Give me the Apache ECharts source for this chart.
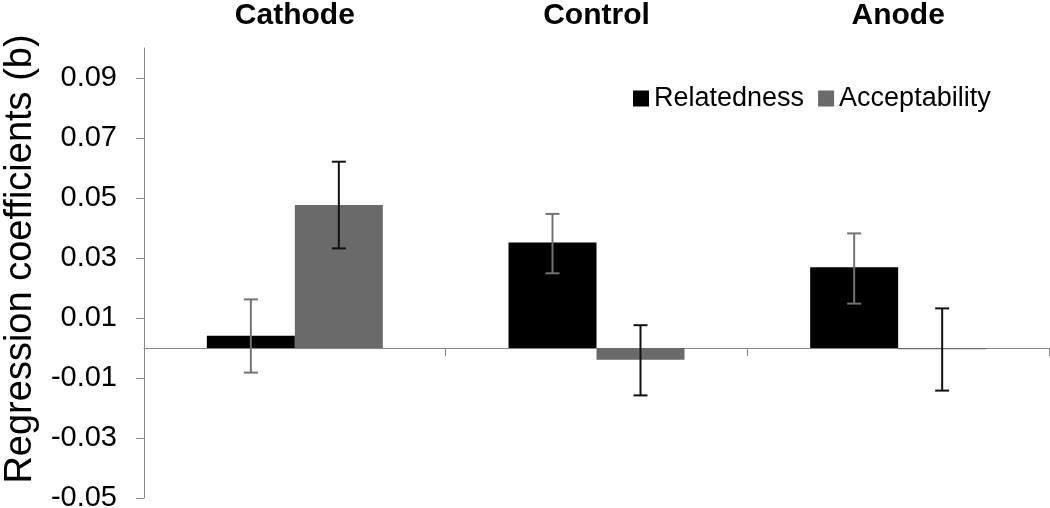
<!DOCTYPE html>
<html>
<head>
<meta charset="utf-8">
<script src="https://cdn.jsdelivr.net/npm/echarts@6/dist/echarts.min.js"></script>
<style>
html,body{margin:0;padding:0;background:#fff;}
#chart{width:1050px;height:508px;}
</style>
</head>
<body>
<div id="chart"></div>
<script>
const categories = ['Cathode', 'Control', 'Anode'];
const seriesNames = ['Relatedness', 'Acceptability'];
const relatedness = [0.0041, 0.0352, 0.0269];
const acceptability = [0.0477, -0.0039, -0.0004];
const relatednessLow = [-0.0082, 0.0249, 0.0148];
const relatednessHigh = [0.0162, 0.0447, 0.0382];
const acceptabilityLow = [0.0332, -0.0158, -0.0142];
const acceptabilityHigh = [0.0621, 0.0076, 0.0132];
const yTicks = [-0.05, -0.03, -0.01, 0.01, 0.03, 0.05, 0.07, 0.09];

const FONT = "'Liberation Sans', Arial, sans-serif";
const BAR_W = 88;
const AXIS_COLOR = '#868686';

function errorSeries(low, high, offsetSign, color) {
  return {
    type: 'custom',
    xAxisIndex: 0,
    silent: true,
    z: 5,
    data: categories.map((c, i) => [i, low[i], high[i]]),
    renderItem: function (params, api) {
      const xi = api.value(0);
      const pLow = api.coord([xi, api.value(1)]);
      const pHigh = api.coord([xi, api.value(2)]);
      const x = pLow[0] + offsetSign * BAR_W / 2;
      const cap = 7;
      const style = { stroke: color, lineWidth: 2, fill: null };
      return {
        type: 'group',
        children: [
          { type: 'line', shape: { x1: x, y1: pLow[1], x2: x, y2: pHigh[1] }, style: style },
          { type: 'line', shape: { x1: x - cap, y1: pHigh[1], x2: x + cap, y2: pHigh[1] }, style: style },
          { type: 'line', shape: { x1: x - cap, y1: pLow[1], x2: x + cap, y2: pLow[1] }, style: style }
        ]
      };
    }
  };
}

const chart = echarts.init(document.getElementById('chart'), null, { renderer: 'canvas' });
chart.setOption({
  animation: false,
  backgroundColor: '#ffffff',
  textStyle: { fontFamily: FONT },
  grid: { left: 144, right: 1, top: 48, bottom: 10, containLabel: false, outerBoundsMode: 'none' },
  legend: {
    data: seriesNames,
    left: 633,
    top: 85,
    padding: 0,
    icon: 'rect',
    itemWidth: 16,
    itemHeight: 16,
    itemGap: 14,
    textStyle: { fontSize: 27, color: '#000', fontFamily: FONT }
  },
  xAxis: [
    {
      type: 'category',
      data: categories,
      position: 'bottom',
      axisLine: { onZero: true, lineStyle: { color: AXIS_COLOR, width: 1 } },
      axisTick: { show: true, length: 8, lineStyle: { color: AXIS_COLOR } },
      axisLabel: { show: false },
      splitLine: { show: false }
    },
    {
      type: 'category',
      data: categories,
      position: 'top',
      axisLine: { show: false },
      axisTick: { show: false },
      axisLabel: { show: true, margin: 17, fontSize: 30, fontWeight: 'bold', color: '#000', fontFamily: FONT },
      splitLine: { show: false }
    }
  ],
  yAxis: {
    type: 'value',
    min: -0.05,
    max: 0.10,
    interval: 0.02,
    name: 'Regression coefficients (b)',
    nameLocation: 'middle',
    nameRotate: 90,
    nameGap: 104,
    nameTextStyle: { fontSize: 38, color: '#000', fontFamily: FONT, padding: [0, 0, 0, 28] },
    axisLine: { show: true, lineStyle: { color: AXIS_COLOR, width: 1 } },
    axisTick: { show: true, length: 8, customValues: yTicks, lineStyle: { color: AXIS_COLOR } },
    axisLabel: {
      customValues: yTicks,
      fontSize: 29,
      color: '#000',
      margin: 27,
      fontFamily: FONT,
      formatter: v => v.toFixed(2)
    },
    splitLine: { show: false }
  },
  series: [
    {
      name: seriesNames[0],
      type: 'bar',
      data: relatedness,
      barWidth: BAR_W,
      barGap: '0%',
      itemStyle: { color: '#000000' }
    },
    {
      name: seriesNames[1],
      type: 'bar',
      data: acceptability,
      barWidth: BAR_W,
      barGap: '0%',
      itemStyle: { color: '#6a6a6a' }
    },
    errorSeries(relatednessLow, relatednessHigh, -1, '#737373'),
    errorSeries(acceptabilityLow, acceptabilityHigh, 1, '#111111')
  ]
});
</script>
</body>
</html>
